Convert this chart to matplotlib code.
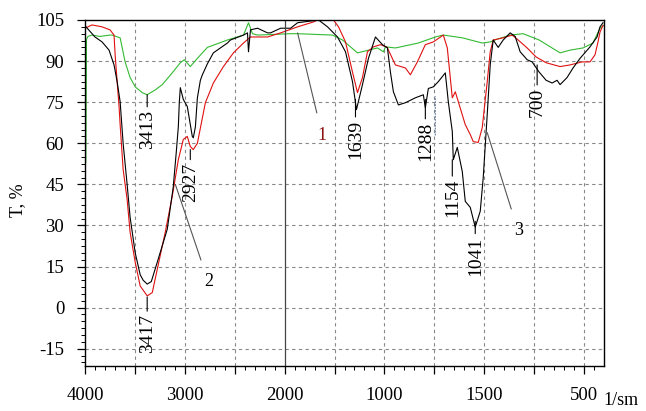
import matplotlib
matplotlib.use("Agg")
import matplotlib.pyplot as plt
import numpy as np

plt.rcParams['font.family'] = ['Liberation Serif', 'DejaVu Serif']
plt.rcParams['axes.unicode_minus'] = False

# IR spectra: wavenumber (1/sm) and transmittance T, %
black_w = [3990, 3900, 3829, 3759, 3709, 3678, 3648, 3618, 3578, 3548, 3497, 3447,
           3417, 3377, 3336, 3276, 3176, 3116, 3085, 3065, 3055, 3045, 3015, 2975,
           2925, 2915, 2894, 2874, 2844, 2824, 2774, 2744, 2714, 2573, 2543, 2412,
           2372, 2362, 2342, 2271, 2171, 2141, 2040, 1970, 1935, 1830, 1785, 1735,
           1695, 1660, 1640, 1610, 1580, 1545, 1510, 1485, 1470, 1455, 1430, 1395,
           1345, 1305, 1295, 1280, 1255, 1230, 1195, 1180, 1160, 1155, 1135, 1110,
           1095, 1070, 1045, 1020, 1005, 985, 970, 955, 930, 905, 870, 845, 820,
           785, 760, 725, 690, 660, 635, 620, 585, 555, 520, 470, 435, 420, 405]
black_t = [102.5, 98.8, 97, 94, 88.6, 82.5, 75.2, 60, 45, 33, 20, 12,
           10, 8.6, 9.5, 16.6, 28.6, 44, 57, 66, 75, 80.3, 76, 73.4,
           62.5, 62, 66, 76.6, 83, 85, 89, 91, 93, 96.6, 97.7, 99.5,
           100.3, 93.4, 101.4, 102, 100.3, 100.3, 102, 102, 104, 105, 102.5, 98.8,
           93.4, 82.5, 72.3, 81.4, 91, 98.8, 96, 94.8, 86, 78.8, 74, 74.8,
           76.6, 77.7, 73, 80, 80.6, 82.5, 85.7, 75.2, 64.3, 54, 58.5, 49.7,
           38.8, 36.6, 29.4, 35.2, 47.5, 70.5, 88.6, 97.7, 95, 97.7, 100.3, 99, 93.4,
           90.5, 89.7, 86, 83, 82, 83, 81.4, 84, 87.5, 91, 95.2, 98.8, 102.5, 104]

red_w = [4000, 3930, 3829, 3749, 3709, 3698, 3678, 3658, 3648, 3618, 3578, 3548,
         3497, 3447, 3377, 3326, 3276, 3196, 3126, 3065, 3015, 2975, 2945, 2915,
         2874, 2794, 2714, 2613, 2513, 2412, 2342, 2291, 2171, 2040, 1935, 1855,
         1835, 1755, 1730, 1695, 1660, 1635, 1610, 1585, 1555, 1520, 1485, 1480,
         1445, 1395, 1370, 1335, 1295, 1255, 1205, 1185, 1160, 1145, 1130, 1095,
         1070, 1055, 1030, 1010, 985, 970, 955, 905, 860, 830, 785, 740, 690,
         620, 570, 510, 470, 445, 430, 420, 405]
red_t = [102, 103.2, 102.5, 101.4, 99.5, 92.3, 82.5, 73, 66.8, 50.5, 39.5, 27.5,
         16.6, 7.9, 4.3, 5.5, 14, 27.5, 40.6, 54, 61.4, 62.5, 58.8, 57.7,
         60, 74.8, 82, 88, 93, 96.6, 98.8, 98.8, 98.8, 100.3, 102.5, 104.3,
         105, 105, 102.5, 97, 86, 78.5, 84, 93.4, 95.2, 96, 95, 94,
         88.6, 87.5, 85, 89.7, 96, 97, 99.5, 94.8, 76.6, 78.8, 75.2, 66.8,
         63.2, 60.6, 60.3, 65.7, 82.5, 93.4, 97.7, 98.5, 99.5, 97.7, 94.8, 91.5, 89.4,
         88, 88.6, 89.7, 89.7, 92.3, 97, 100.6, 103]

green_w = [3992, 3985, 3970, 3930, 3850, 3750, 3729, 3648, 3598, 3548, 3497, 3427,
           3377, 3296, 3226, 3126, 3045, 3005, 2945, 2874, 2774, 2573, 2412, 2362,
           2322, 2271, 1970, 1935, 1760, 1710, 1635, 1580, 1535, 1505, 1495, 1445,
           1330, 1245, 1205, 1110, 1010, 970, 935, 870, 805, 725, 620, 570, 505,
           455, 420, 403]
green_t = [53, 98, 99, 99.5, 99, 99.5, 99.5, 98.5, 89.7, 84, 80.6, 78.5,
           77.7, 79.5, 81.4, 85.7, 89.4, 90.5, 88, 91, 95, 97.7, 99.5, 104,
           100, 99.5, 100, 100, 99.5, 97.7, 93, 94, 94.8, 93.4, 95.2, 94.8,
           96.6, 98.8, 99.5, 98.5, 96.6, 97, 98, 99.5, 100, 97.7, 93, 94, 94.8,
           96.6, 102, 103]

# rotated peak labels: text, wavenumber, T at curve, T at text top
peak_labels = ['3413', '3417', '2927', '1639', '1288', '1154', '1041', '700']
peak_w = [3377, 3377, 2945, 1645, 1295, 1160, 1045, 735]
peak_t = [77.7, 3.9, 57.7, 76, 76, 54, 31.5, 88.6]
peak_text_t = [72.3, -2.3, 53, 68.6, 67.9, 47, 26, 80.3]

xtick_pos = [4000, 3500, 3000, 2500, 2000, 1750, 1500, 1250, 1000, 750, 500]
xtick_lab = ['4000', '', '3000', '', '2000', '', '1000', '', '1500', '', '500']
ytick_pos = [-15, 0, 15, 30, 45, 60, 75, 90, 105]


def fwd(w):
    w = np.asarray(w, dtype=float)
    return np.where(w >= 2000, (w - 2000) / 10.0, (w - 2000) / 5.0)


def inv(u):
    u = np.asarray(u, dtype=float)
    return np.where(u >= 0, 2000 + 10.0 * u, 2000 + 5.0 * u)


fig = plt.figure(figsize=(6.46, 4.11), dpi=100)
ax = fig.add_axes([85 / 646, 1 - 366 / 411, 519 / 646, 346 / 411])
ax.set_xscale('function', functions=(fwd, inv))

ax.plot(green_w, green_t, color='#33bb33', lw=0.8)
ax.plot(red_w, red_t, color='#e01010', lw=0.8)
ax.plot(black_w, black_t, color='black', lw=0.8)

ax.set_xlim(4000, 400)
ax.set_ylim(-21.3, 105)

# grid
for xv in xtick_pos[1:]:
    if xv == 2000:
        ax.axvline(xv, color='#444444', lw=0.9)
    else:
        ax.axvline(xv, color='#888888', lw=0.8, ls=(0, (3, 3)), zorder=0)
for yv in ytick_pos[:-1]:
    ax.axhline(yv, color='#888888', lw=0.8, ls=(0, (3, 3)), zorder=0)

ax.set_xticks(xtick_pos)
ax.set_xticklabels(xtick_lab)
minor_x = list(range(3900, 2000, -100)) + list(range(1950, 400, -50))
ax.set_xticks(minor_x, minor=True)
ax.set_yticks(ytick_pos)
ax.set_yticklabels([str(v) for v in ytick_pos])
ax.set_yticks(np.arange(-20, 105, 2.5), minor=True)
ax.tick_params(which='major', direction='out', length=6, width=0.9, labelsize=13.5, pad=9)
ax.tick_params(which='minor', direction='out', length=3, width=0.7)
for s in ax.spines.values():
    s.set_linewidth(1.0)

for lab, w, t, tt in zip(peak_labels, peak_w, peak_t, peak_text_t):
    ax.annotate(lab, xy=(w, t), xytext=(w, tt), rotation=90, ha='center', va='top',
                fontsize=14, arrowprops=dict(arrowstyle='-', lw=0.8, color='black',
                                             shrinkA=0, shrinkB=0))

# faint dotted marker next to 1288
ax.annotate('', xy=(1245, 77), xytext=(1245, 63),
            arrowprops=dict(arrowstyle='-', lw=0.8, ls=':', color='#6a7fa0',
                            shrinkA=0, shrinkB=0))

# numbered curve labels
ax.annotate('1', xy=(1935, 100.3), xytext=(1812, 63), ha='center', va='center',
            fontsize=13, color='#8a1010',
            arrowprops=dict(arrowstyle='-', lw=0.8, color='#555555', shrinkA=8, shrinkB=0))
ax.annotate('2', xy=(3095, 45), xytext=(2764, 9.4), ha='center', va='center',
            fontsize=13, arrowprops=dict(arrowstyle='-', lw=0.8, color='#555555',
                                         shrinkA=8, shrinkB=0))
ax.annotate('3', xy=(985, 63.9), xytext=(830, 28), ha='center', va='center',
            fontsize=13, arrowprops=dict(arrowstyle='-', lw=0.8, color='#555555',
                                         shrinkA=8, shrinkB=0))

fig.text(18 / 646, 1 - 200 / 411, 'T, %', rotation=90, ha='center', va='center', fontsize=13)
fig.text(621 / 646, 1 - 400 / 411, '1/sm', ha='center', va='center', fontsize=13)

fig.savefig('out.png', dpi=100)
